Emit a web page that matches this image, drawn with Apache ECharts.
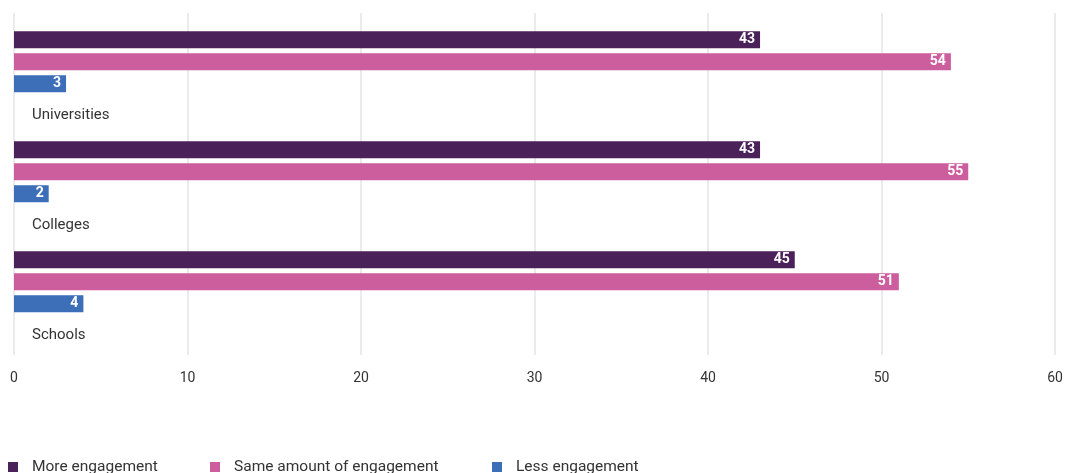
<!DOCTYPE html>
<html><head><meta charset="utf-8">
<script src="https://cdn.jsdelivr.net/npm/echarts@6/dist/echarts.min.js"></script>
<style>html,body{margin:0;padding:0;background:#fff}#c{width:1067px;height:473px}</style>
</head><body><div id="c"></div>
<script>
const categories = ['Universities', 'Colleges', 'Schools'];
const seriesNames = ['More engagement', 'Same amount of engagement', 'Less engagement'];
const moreEngagement = [43, 43, 45];
const sameEngagement = [54, 55, 51];
const lessEngagement = [3, 2, 4];
const xTicks = [0, 10, 20, 30, 40, 50, 60];
const colors = ['#4b2159', '#cd5e9e', '#3d6eb8'];
const FONT = 'Roboto';

const chart = echarts.init(document.getElementById('c'), null, {renderer: 'canvas'});
const values = [moreEngagement, sameEngagement, lessEngagement];
const series = seriesNames.map((n, i) => ({
  name: n, type: 'bar', xAxisIndex: 0, yAxisIndex: 0,
  data: values[i], barWidth: 17, barGap: '29.4%',
  itemStyle: {color: colors[i]},
  label: {show: true, position: 'insideRight', distance: 5, color: '#fff',
    fontFamily: FONT, fontWeight: 'bold', fontSize: 14},
  emphasis: {disabled: true}, animation: false
}));
const legends = seriesNames.map((n, i) => ({
  data: [n], left: [8, 210, 492][i], top: 459, padding: 0, icon: 'rect',
  itemWidth: 10, itemHeight: 10, selectedMode: false,
  textStyle: {color: '#333', fontFamily: FONT, fontSize: 15.5, padding: [0, 0, 0, 9]}
}));
chart.setOption({
  animation: false,
  color: colors,
  legend: legends,
  grid: [
    {left: 14, right: 12, top: 5.25, height: 331.5, containLabel: false},
    {left: 14, right: 12, top: 13, bottom: 118, containLabel: false}
  ],
  xAxis: [
    {gridIndex: 0, type: 'value', min: 0, max: 60, interval: 10, show: false},
    {gridIndex: 1, type: 'value', min: xTicks[0], max: xTicks[xTicks.length - 1], interval: 10,
      axisLine: {show: false}, axisTick: {show: false},
      splitLine: {show: true, lineStyle: {color: '#e4e4e4', width: 1.5}},
      axisLabel: {color: '#333', fontFamily: FONT, fontSize: 14, margin: 16}}
  ],
  yAxis: [
    {gridIndex: 0, type: 'category', data: categories, inverse: true,
      axisLine: {show: false}, axisTick: {show: false}, splitLine: {show: false},
      axisLabel: {inside: true, margin: 18, verticalAlign: 'middle', interval: 0, hideOverlap: false,
        formatter: v => '{s|}\n{t|' + v + '}',
        rich: {
          s: {height: 106, lineHeight: 106},
          t: {color: '#333', fontFamily: FONT, fontSize: 15, lineHeight: 18}
        }}, z: 5},
    {gridIndex: 1, type: 'value', show: false}
  ],
  series: series
});
</script></body></html>
